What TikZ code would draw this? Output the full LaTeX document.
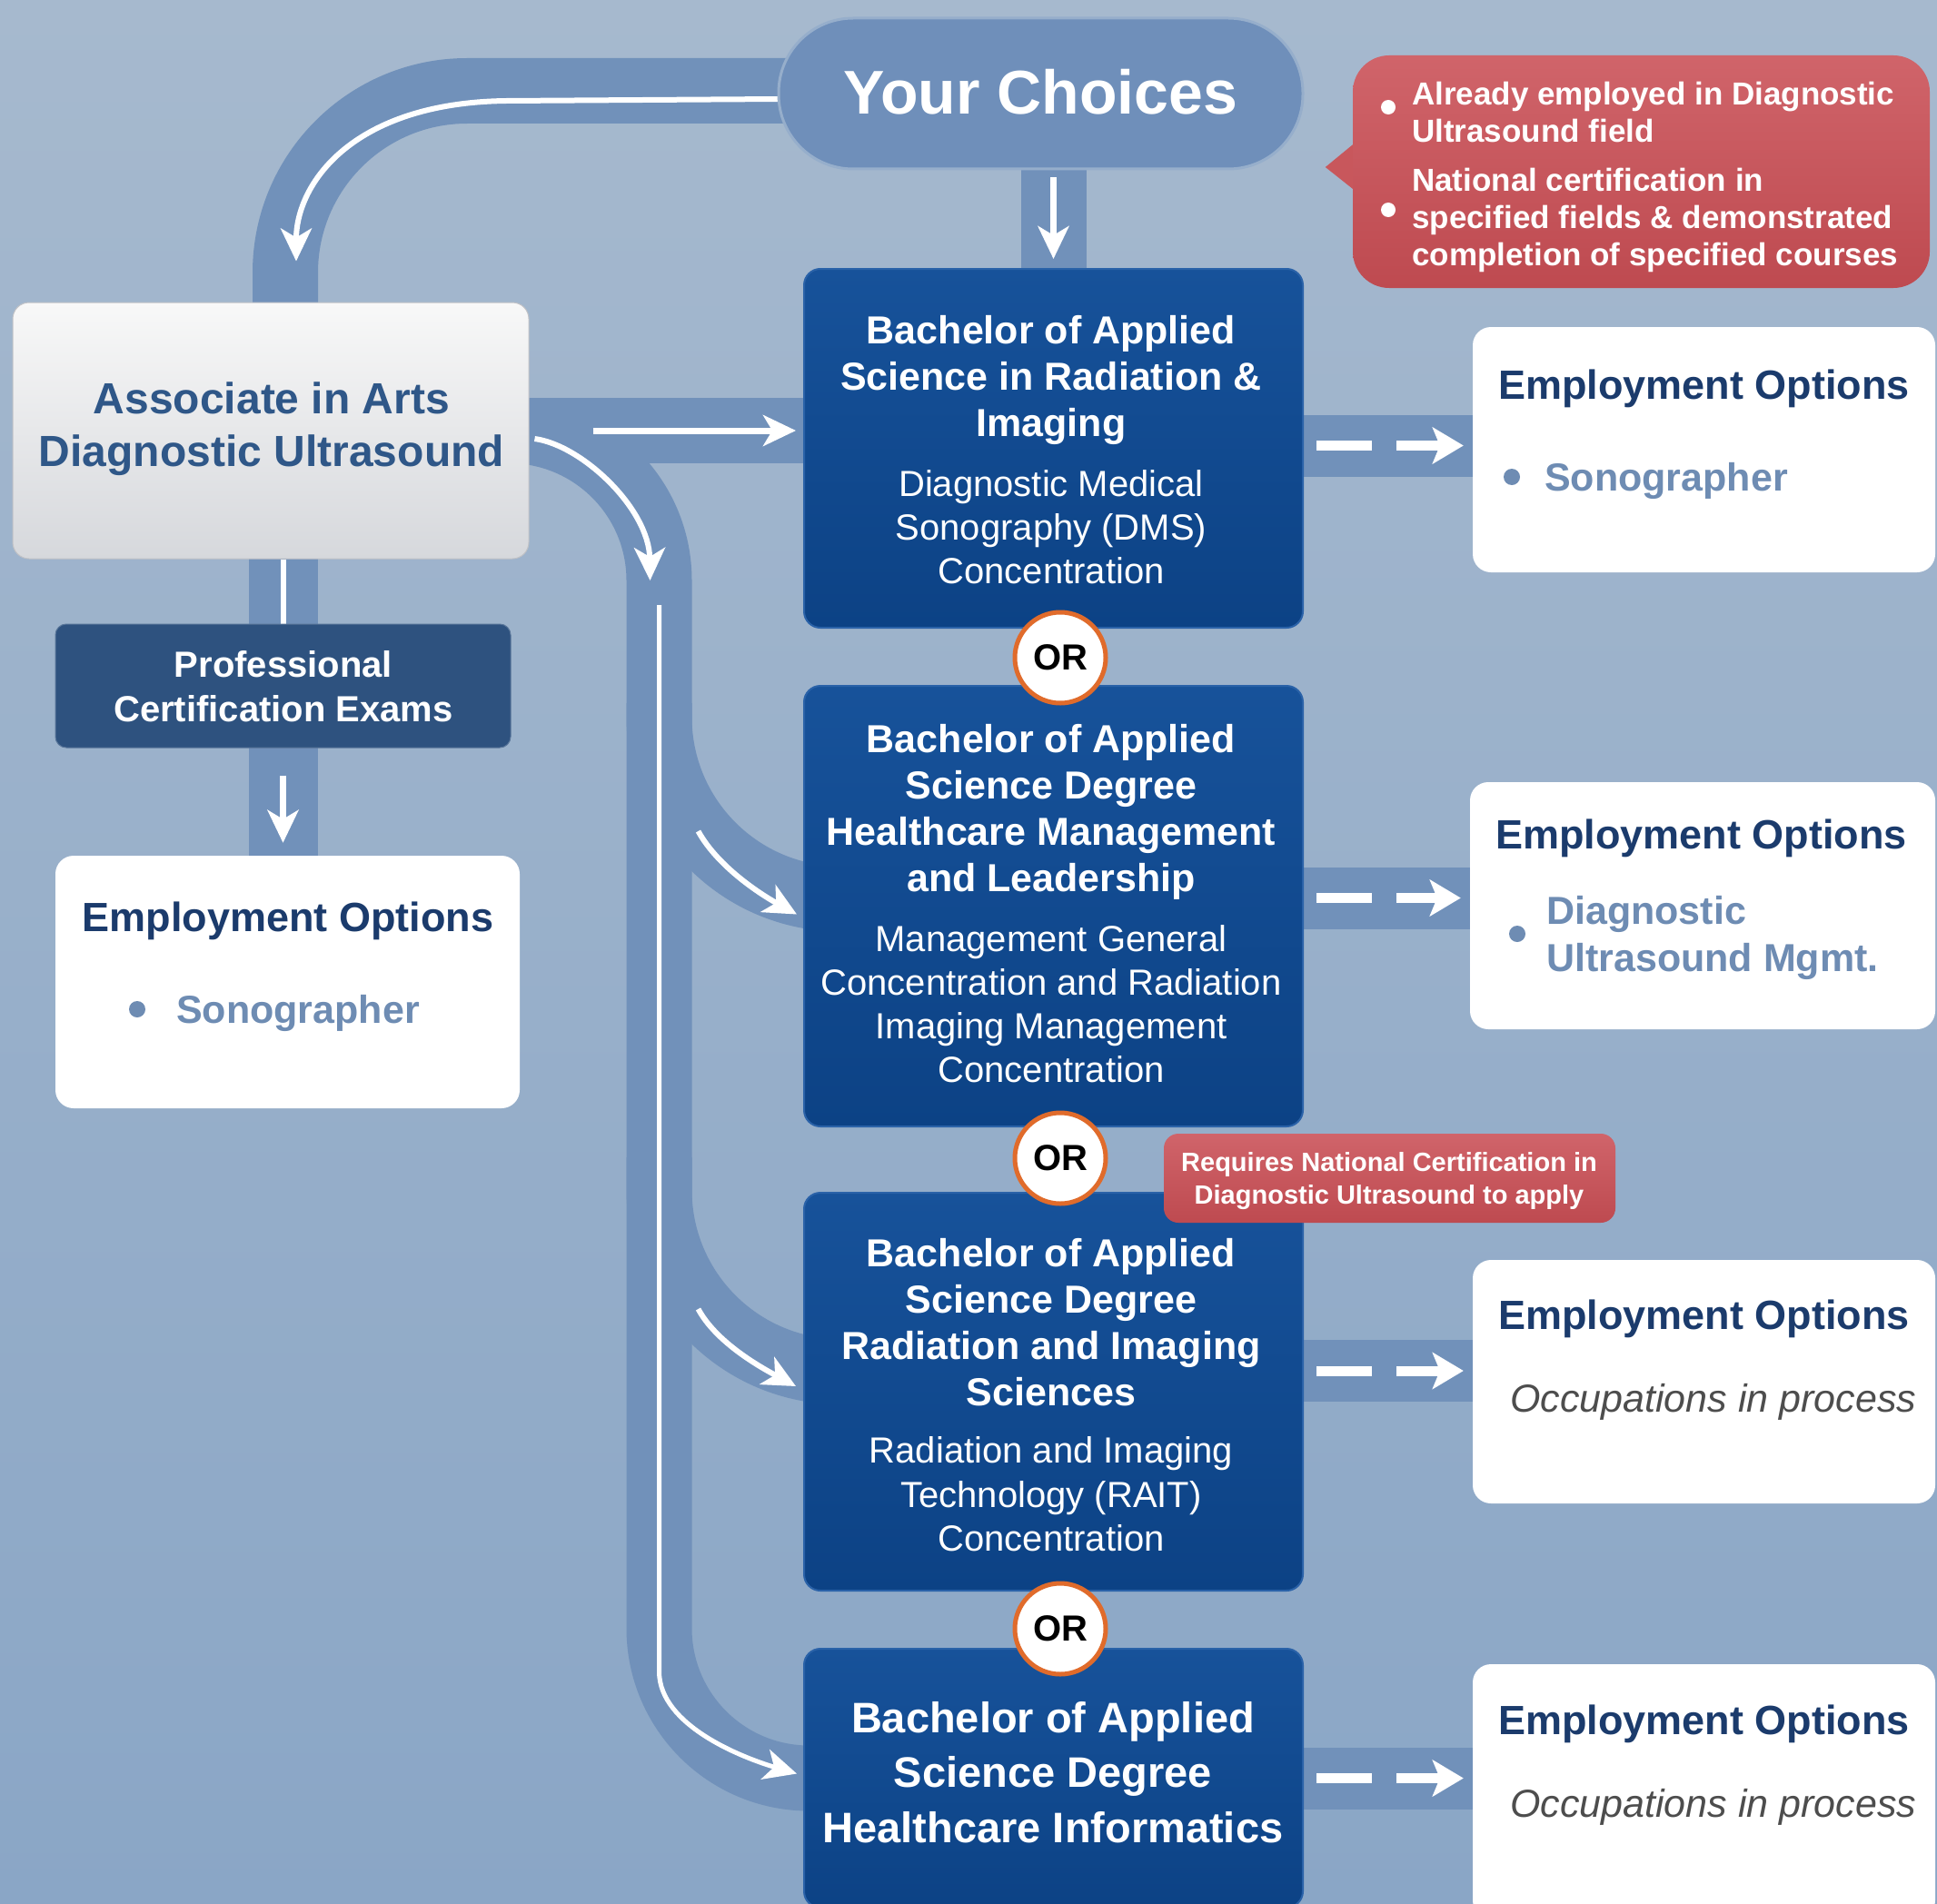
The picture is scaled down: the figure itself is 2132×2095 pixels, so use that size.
\documentclass[tikz,border=0pt]{standalone}
\usepackage{fontspec}
\setmainfont{Liberation Sans}
\usetikzlibrary{arrows.meta,calc}
\pgfdeclarelayer{back}
\pgfdeclarelayer{bands}
\pgfsetlayers{back,bands,main}
\definecolor{bgtop}{HTML}{A6B9CE}
\definecolor{bgbot}{HTML}{8AA6C6}
\definecolor{bandc}{HTML}{7191BA}
\definecolor{navyA}{HTML}{17529A}
\definecolor{navyB}{HTML}{0C4285}
\definecolor{navyE}{HTML}{2A62A8}
\definecolor{profc}{HTML}{2E527F}
\definecolor{aatext}{HTML}{2F5788}
\definecolor{aatop}{HTML}{F8F8F8}
\definecolor{aabot}{HTML}{D6D8DC}
\definecolor{eotext}{HTML}{1B3B6C}
\definecolor{sonoc}{HTML}{6E8CB3}
\definecolor{occc}{HTML}{4D4D4D}
\definecolor{redA}{HTML}{D0646A}
\definecolor{redB}{HTML}{BE4A50}
\definecolor{redM}{HTML}{C8575C}
\definecolor{orc}{HTML}{E06B2B}
\definecolor{ycfill}{HTML}{6F8FBA}
\definecolor{ycline}{HTML}{96AECB}
\newcommand\myfs[2]{\fontsize{#1}{#2}\selectfont}
\begin{document}
\begin{tikzpicture}[x=1pt,y=-1pt,
  bandpath/.style={draw=bandc,line width=72pt},
  whiteline/.style={draw=white,line width=7pt},
  whitearrow/.style={draw=white,line width=7pt,-{Stealth[length=36pt,width=34pt,inset=10pt]}},
  whitedash/.style={draw=white,line width=11pt,dash pattern=on 61pt off 27pt on 400pt,-{Stealth[length=34pt,width=40pt,inset=8pt]}},
  ycbox/.style={rectangle,rounded corners=82pt,minimum width=577pt,minimum height=166pt,fill=ycfill,draw=ycline,line width=3pt,text=white,font=\bfseries\myfs{68}{80}},
  bachbox/.style={rectangle,rounded corners=18pt,minimum width=549pt,top color=navyA,bottom color=navyB,draw=navyE,line width=2pt},
  empbox/.style={rectangle,rounded corners=20pt,fill=white,draw=none},
  aabox/.style={rectangle,rounded corners=18pt,minimum width=568pt,minimum height=282pt,top color=aatop,bottom color=aabot,draw=aabot!90!black,line width=1pt},
  profbox/.style={rectangle,rounded corners=12pt,minimum width=501pt,minimum height=136pt,fill=profc,draw=profc!80!white,line width=1pt},
  redbox/.style={rectangle,top color=redA,bottom color=redB,draw=none},
  orcirc/.style={circle,minimum size=100pt,inner sep=0pt,fill=white,draw=orc,line width=5pt,text=black,font=\bfseries\myfs{40}{48}},
  ttl/.style={text=white,font=\bfseries\myfs{43}{51},align=center,inner sep=0pt,anchor=north},
  conc/.style={text=white,font=\myfs{40}{48},align=center,inner sep=0pt,anchor=north},
  eohead/.style={anchor=base west,inner sep=0pt,text=eotext,font=\bfseries\myfs{45}{54}},
  sono/.style={anchor=base west,inner sep=0pt,text=sonoc,font=\bfseries\myfs{43}{52}},
  occ/.style={anchor=base west,inner sep=0pt,text=occc,font=\itshape\myfs{43}{52}},
  calltext/.style={anchor=north west,inner sep=0pt,align=left,text=white,font=\bfseries\myfs{35}{41}}
]
\useasboundingbox (0,0) rectangle (2132,2095);
\begin{pgfonlayer}{back}
\shade[top color=bgtop,bottom color=bgbot] (0,0) rectangle (2132,2095);
\end{pgfonlayer}

% main nodes
\node[ycbox] (YC) at (1145.5,103) {\raisebox{5pt}{Your Choices}};
\node[redbox,minimum width=635pt,minimum height=256pt,rounded corners=40pt] (C1) at (1806.5,189) {};
\node[aabox] (AA) at (298,474) {};
\node[profbox] (P) at (311.5,755) {};
\node[empbox,minimum width=511pt,minimum height=278pt] (EL) at (316.5,1081) {};
\node[bachbox,minimum height=395pt] (B1) at (1159.5,493.5) {};
\node[bachbox,minimum height=485pt] (B2) at (1159.5,997.5) {};
\node[bachbox,minimum height=438pt] (B3) at (1159.5,1532) {};
\node[bachbox,minimum height=285pt] (B4) at (1159.5,1957.5) {};
\node[empbox,minimum width=509pt,minimum height=270pt] (E1) at (1875.5,495) {};
\node[empbox,minimum width=512pt,minimum height=272pt] (E2) at (1874,997) {};
\node[empbox,minimum width=509pt,minimum height=268pt] (E3) at (1875.5,1521) {};
\node[empbox,minimum width=509pt,minimum height=280pt] (E4) at (1875.5,1972) {};
\node[orcirc] (O1) at (1167,724) {OR};
\node[orcirc] (O2) at (1167,1275) {OR};
\node[orcirc] (O3) at (1167,1793) {OR};
\node[redbox,minimum width=497pt,minimum height=98pt,rounded corners=16pt] (C2) at (1529.5,1297) {};

% texts
\node[ttl] (B1t) at (1157,347.6) {Bachelor of Applied\\Science in Radiation \&\\Imaging};
\node[conc] (B1c) at (1157,517.7) {Diagnostic Medical\\Sonography (DMS)\\Concentration};
\node[ttl] (B2t) at (1157,797.6) {Bachelor of Applied\\Science Degree\\Healthcare Management\\and Leadership};
\node[conc] (B2c) at (1157,1018.7) {Management General\\Concentration and Radiation\\Imaging Management\\Concentration};
\node[ttl] (B3t) at (1157,1363.6) {Bachelor of Applied\\Science Degree\\Radiation and Imaging\\Sciences};
\node[conc,font=\myfs{40}{48.5}] (B3c) at (1157,1581.7) {Radiation and Imaging\\Technology (RAIT)\\Concentration};
\node[ttl,font=\bfseries\myfs{47}{60.5}] (B4t) at (1159,1873) {Bachelor of Applied\\Science Degree\\Healthcare Informatics};

\node[anchor=north,inner sep=0pt,align=center,text=aatext,font=\bfseries\myfs{48}{58}] (AAt) at (299,421) {Associate in Arts\\Diagnostic Ultrasound};
\node[anchor=north,inner sep=0pt,align=center,text=white,font=\bfseries\myfs{40}{49}] (Pt) at (312,716) {Professional\\Certification Exams};

\fill[white] (1528,118) circle[radius=8pt];
\fill[white] (1528,231) circle[radius=8pt];
\node[calltext] (C1a) at (1554,89.5) {Already employed in Diagnostic\\Ultrasound field};
\node[calltext] (C1b) at (1554,184.5) {National certification in\\specified fields \& demonstrated\\completion of specified courses};
\node[anchor=north,inner sep=0pt,align=center,text=white,font=\bfseries\myfs{29}{36}] (C2t) at (1529,1268.6) {Requires National Certification in\\Diagnostic Ultrasound to apply};

\node[eohead] (E1h) at (1649,439) {Employment Options};
\fill[sonoc] (1664,525) circle[radius=9pt];
\node[sono] (E1s) at (1700,540) {Sonographer};
\node[eohead] (E2h) at (1646,934) {Employment Options};
\fill[sonoc] (1670,1028) circle[radius=9pt];
\node[sono,anchor=north west,align=left] (E2s) at (1702,986.6) {Diagnostic\\Ultrasound Mgmt.};
\node[eohead] (E3h) at (1649,1463) {Employment Options};
\node[occ] (E3o) at (1662,1554) {Occupations in process};
\node[eohead] (E4h) at (1649,1909) {Employment Options};
\node[occ] (E4o) at (1662,2000) {Occupations in process};
\node[eohead,anchor=base] (ELh) at (317,1025) {Employment Options};
\fill[sonoc] (151,1111) circle[radius=9pt];
\node[sono] (ELs) at (194,1126) {Sonographer};

% connectors
\begin{pgfonlayer}{bands}
\draw[bandpath,rounded corners=200pt] ($(YC.west)+(30,-3)$) -| ($(AA.north)+(16,20)$);
\draw[bandpath] ($(AA.east)+(-5,0)$) -- ($(AA.east -| B1.west)+(5,0)$);
\draw[bandpath,rounded corners=165pt] ($(AA.east)+(-60,0)$) -- ($(AA.east)+(143,0)$) |- ($(B4.west)+(60,0)$);
\draw[bandpath,rounded corners=200pt] ($(AA.east)+(143,300)$) |- ($(B2.west)+(60,-8)$);
\draw[bandpath,rounded corners=200pt] ($(AA.east)+(143,800)$) |- ($(B3.west)+(60,-22)$);
\draw[bandpath] ($(B1.north |- YC.south)+(0,-5)$) -- ($(B1.north)+(0,5)$);
\draw[bandpath,line width=76pt] ($(P.center |- AA.south)+(0,-5)$) -- ($(P.center |- EL.north)+(0,5)$);
\draw[bandpath,line width=68pt] ($(B1.east)+(-5,-3)$) -- ($(B1.east -| E1.west)+(5,-3)$);
\draw[bandpath,line width=68pt] ($(B2.east)+(-5,-9)$) -- ($(B2.east -| E2.west)+(5,-9)$);
\draw[bandpath,line width=68pt] ($(B3.east)+(-5,-23)$) -- ($(B3.east -| E3.west)+(5,-23)$);
\draw[bandpath,line width=68pt] ($(B4.east)+(-5,0)$) -- ($(B4.east -| E4.west)+(5,0)$);

\draw[whitearrow,line width=6pt] ($(YC.west)+(2,6)$) -- ($(YC.west)+(-298,8)$) .. controls ($(YC.west)+(-468,10)$) and ($(AA.north)+(28,-130)$) .. ($(AA.north)+(28,-45)$);
\draw[whitearrow] ($(B1.north |- YC.south)+(0,8)$) -- ($(B1.north)+(0,-10)$);
\draw[whitearrow] ($(AA.east)+(70,0)$) -- ($(AA.east -| B1.west)+(-8,0)$);
\draw[whitearrow,line width=6pt] ($(AA.east)+(6,9)$) .. controls ($(AA.east)+(58,16)$) and ($(AA.east)+(132,86)$) .. ($(AA.east)+(133,165)$);
\draw[whitearrow,line width=5pt] ($(AA.east)+(143,192)$) -- ($(AA.east)+(143,1366)$) .. controls ($(AA.east)+(143,1426)$) and ($(B4.west)+(-65,-22)$) .. ($(B4.west)+(-7,-5)$);
\draw[whitearrow,line width=6pt] ($(AA.east)+(186,441)$) .. controls ($(AA.east)+(208,481)$) and ($(B2.west)+(-45,-12)$) .. ($(B2.west)+(-7,9)$);
\draw[whitearrow,line width=6pt] ($(AA.east)+(186,967)$) .. controls ($(AA.east)+(206,1004)$) and ($(B3.west)+(-47,-27)$) .. ($(B3.west)+(-8,-6)$);
\draw[whiteline,line width=6pt] (P.center |- AA.south) -- (P.north);
\draw[whitearrow] ($(P.south)+(0,30)$) -- ($(P.center |- EL.north)+(0,-14)$);

\draw[whitedash] ($(B1.east)+(14,-3)$) -- ($(B1.east -| E1.west)+(-10,-3)$);
\draw[whitedash] ($(B2.east)+(14,-9)$) -- ($(B2.east -| E2.west)+(-10,-9)$);
\draw[whitedash] ($(B3.east)+(14,-23)$) -- ($(B3.east -| E3.west)+(-10,-23)$);
\draw[whitedash] ($(B4.east)+(14,0)$) -- ($(B4.east -| E4.west)+(-10,0)$);

\fill[redM] ($(C1.west)+(4,-33)$) -- ($(C1.west)+(-30,-5)$) -- ($(C1.west)+(4,22)$) -- cycle;
\end{pgfonlayer}
\end{tikzpicture}
\end{document}
